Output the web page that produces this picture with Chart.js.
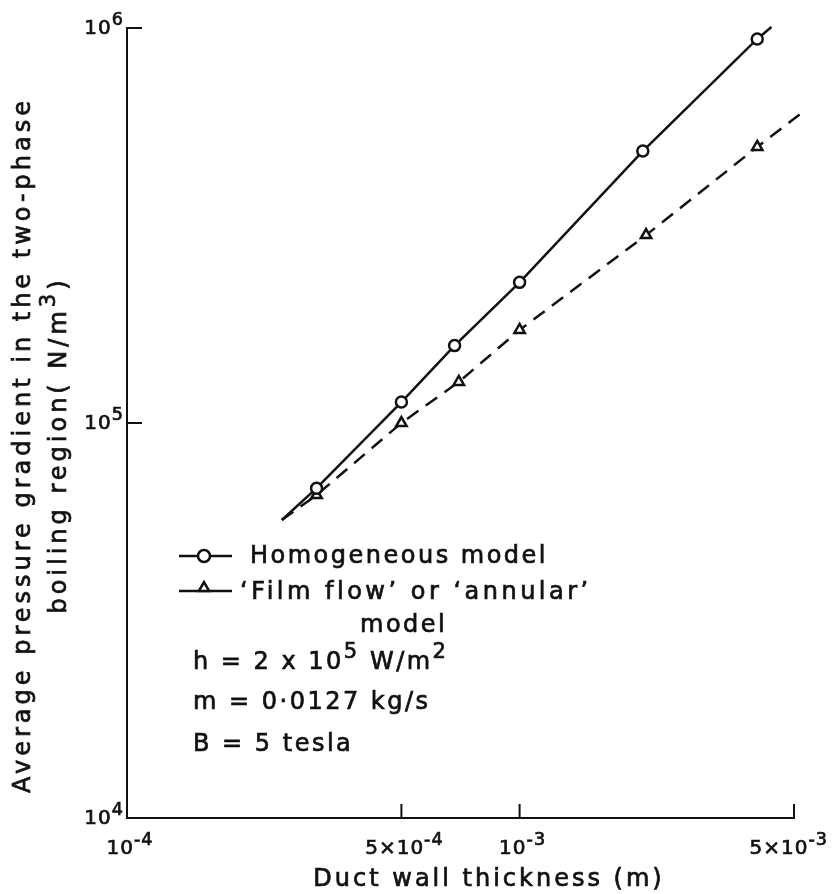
<!DOCTYPE html>
<html>
<head>
<meta charset="utf-8">
<script src="https://cdn.jsdelivr.net/npm/chart.js@4.4.0/dist/chart.umd.min.js"></script>
<style>
html, body { margin: 0; padding: 0; background: #fff; }
#wrap { width: 833px; height: 894px; }
</style>
</head>
<body>
<div id="wrap"><canvas id="myChart"></canvas></div>
<script>
// duct wall thickness (m) vs pressure gradient (N/m3)
// first and last entries only mark where each drawn line stops (no marker)
var homThickness = [2.48e-4, 3.04e-4, 5.0e-4, 6.83e-4, 1.0e-3, 2.06e-3, 4.03e-3, 4.38e-3];
var homGradient = [5.68e4, 6.84e4, 1.13e5, 1.57e5, 2.27e5, 4.88e5, 9.38e5, 1.006e6];
var filmThickness = [2.48e-4, 3.04e-4, 5.0e-4, 7.0e-4, 1.0e-3, 2.1e-3, 4.03e-3, 5.22e-3];
var filmGradient = [5.68e4, 6.57e4, 1.0e5, 1.27e5, 1.72e5, 2.99e5, 5.0e5, 6.09e5];

// tick values and their labels as [base, exponent]
var xTicks = [1e-4, 5e-4, 1e-3, 5e-3];
var xTickLabels = [['10', '-4'], ['5×10', '-4'], ['10', '-3'], ['5×10', '-3']];
var yTicks = [1e4, 1e5, 1e6];
var yTickLabels = [['10', '4'], ['10', '5'], ['10', '6']];

var seriesNames = ['Homogeneous model', '\u2018Film flow\u2019 or \u2018annular\u2019', 'model'];
var notes = [
    [['h = 2 x 10', 0], ['5', 1], [' W/m', 0], ['2', 1]],
    [['m = 0·0127 kg/s', 0]],
    [['B = 5 tesla', 0]]
];
var yTitle = [
    [['Average pressure gradient in the two-phase', 0]],
    [['boiling region( N/m', 0], ['3', 1], [')', 0]]
];
var xTitle = 'Duct wall thickness (m)';

var tinta = '#111';
var fuente = 'DejaVu Sans';

function puntos(xs, ys) {
    return xs.map(function (v, i) { return { x: v, y: ys[i] }; });
}

function radios(n, r) {
    // no marker on the two line ends
    return Array.from({ length: n }, function (_, i) { return (i === 0 || i === n - 1) ? 0 : r; });
}

function linea(ctx, x1, y1, x2, y2) {
    ctx.beginPath();
    ctx.moveTo(x1, y1);
    ctx.lineTo(x2, y2);
    ctx.stroke();
}

// text with raised parts; align 'left' | 'center' | 'right'
function anchoTexto(ctx, partes, size) {
    var w = 0;
    partes.forEach(function (p) {
        ctx.font = (p[1] ? size * 0.88 : size) + 'px "' + fuente + '"';
        w += ctx.measureText(p[0]).width;
    });
    return w;
}

function textoRico(ctx, partes, x, y, size, align) {
    var w = anchoTexto(ctx, partes, size);
    var cx = align === 'center' ? x - w / 2 : (align === 'right' ? x - w : x);
    ctx.save();
    ctx.textAlign = 'left';
    ctx.textBaseline = 'middle';
    ctx.lineWidth = 0.7;   // a bit heavier, like the printed lettering
    partes.forEach(function (p) {
        ctx.font = (p[1] ? size * 0.88 : size) + 'px "' + fuente + '"';
        var py = p[1] ? y - size * 0.42 : y;
        ctx.fillText(p[0], cx, py);
        ctx.strokeText(p[0], cx, py);
        cx += ctx.measureText(p[0]).width;
    });
    ctx.restore();
    return w;
}

// inward ticks, tick labels, titles, legend and notes
var extras = {
    id: 'extras',
    afterDraw: function (chart) {
        var ctx = chart.ctx;
        var sx = chart.scales.x, sy = chart.scales.y;
        ctx.save();
        ctx.strokeStyle = tinta;
        ctx.fillStyle = tinta;
        ctx.lineWidth = 2;

        yTicks.forEach(function (v, i) {
            var py = sy.getPixelForValue(v);
            linea(ctx, sx.left, py, sx.left + 15, py);
            ctx.letterSpacing = '1px';
            textoRico(ctx, [[yTickLabels[i][0], 0], [yTickLabels[i][1], 1]], 124, py + 1, 20, 'right');
        });
        xTicks.forEach(function (v, i) {
            var px = sx.getPixelForValue(v);
            if (i > 0) linea(ctx, px, sy.bottom, px, sy.bottom - 14);
            ctx.letterSpacing = '1px';
            var partes = [[xTickLabels[i][0], 0], [xTickLabels[i][1], 1]];
            var w = anchoTexto(ctx, partes, 20);
            var left = Math.min(px + 3 - w / 2, 828 - w);
            textoRico(ctx, partes, left, 849, 20, 'left');
        });

        // axis titles
        ctx.letterSpacing = '4px';
        [24, 60].forEach(function (cx, i) {
            ctx.save();
            ctx.translate(cx, 445);
            ctx.rotate(-Math.PI / 2);
            textoRico(ctx, yTitle[i], 0, 0, 24, 'center');
            ctx.restore();
        });
        ctx.letterSpacing = '3px';
        textoRico(ctx, [[xTitle, 0]], 489, 880, 24, 'center');

        // legend
        ctx.lineWidth = 2.5;
        linea(ctx, 179, 556, 232, 556);
        ctx.save();
        ctx.fillStyle = '#fff';
        ctx.beginPath(); ctx.arc(204, 556, 6, 0, Math.PI * 2); ctx.fill(); ctx.stroke();
        ctx.restore();
        linea(ctx, 179, 591, 232, 591);
        ctx.save();
        ctx.fillStyle = '#fff';
        Chart.helpers.drawPoint(ctx, { pointStyle: 'triangle', radius: 6, borderWidth: 2.5 }, 204, 588);
        ctx.restore();

        ctx.letterSpacing = '2.5px';
        textoRico(ctx, [[seriesNames[0], 0]], 250, 557, 24, 'left');
        ctx.letterSpacing = '3.5px';
        textoRico(ctx, [[seriesNames[1], 0]], 240, 593, 24, 'left');
        ctx.letterSpacing = '2.5px';
        textoRico(ctx, [[seriesNames[2], 0]], 360, 626, 24, 'left');

        ctx.letterSpacing = '2.5px';
        [663, 703, 745].forEach(function (py, i) {
            textoRico(ctx, notes[i], 193, py, 24, 'left');
        });
        ctx.restore();
    }
};

var ctx = document.getElementById('myChart').getContext('2d');
var myChart = new Chart(ctx, {
    type: 'line',
    data: {
        datasets: [{
            label: seriesNames[0],
            data: puntos(homThickness, homGradient),
            borderColor: tinta,
            borderWidth: 2.5,
            pointStyle: 'circle',
            pointRadius: radios(homThickness.length, 5.5),
            pointBackgroundColor: '#fff',
            pointBorderColor: tinta,
            pointBorderWidth: 2.5,
            clip: false
        }, {
            label: seriesNames[1] + ' ' + seriesNames[2],
            data: puntos(filmThickness, filmGradient),
            borderColor: tinta,
            borderWidth: 2.5,
            borderDash: [14, 9],
            pointStyle: 'triangle',
            pointRadius: radios(filmThickness.length, 6),
            pointBackgroundColor: '#fff',
            pointBorderColor: tinta,
            pointBorderWidth: 2.5,
            clip: false
        }]
    },
    options: {
        responsive: true,
        maintainAspectRatio: false,
        animation: false,
        layout: { padding: { top: 28, right: 39, left: 0, bottom: 0 } },
        plugins: {
            legend: { display: false },
            tooltip: { enabled: false }
        },
        scales: {
            x: {
                type: 'logarithmic',
                min: 1e-4,
                max: 5e-3,
                grid: { display: false, drawTicks: false },
                border: { display: true, color: tinta, width: 2 },
                afterBuildTicks: function (scale) {
                    scale.ticks = xTicks.map(function (v) { return { value: v }; });
                },
                afterFit: function (scale) {
                    scale.height = 76;
                    scale.paddingLeft = 0;
                    scale.paddingRight = 0;
                },
                ticks: { display: false }
            },
            y: {
                type: 'logarithmic',
                min: 1e4,
                max: 1e6,
                grid: { display: false, drawTicks: false },
                border: { display: true, color: tinta, width: 2 },
                afterBuildTicks: function (scale) {
                    scale.ticks = yTicks.map(function (v) { return { value: v }; });
                },
                afterFit: function (scale) {
                    scale.width = 127;
                },
                ticks: { display: false }
            }
        }
    },
    plugins: [extras]
});
</script>
</body>
</html>
